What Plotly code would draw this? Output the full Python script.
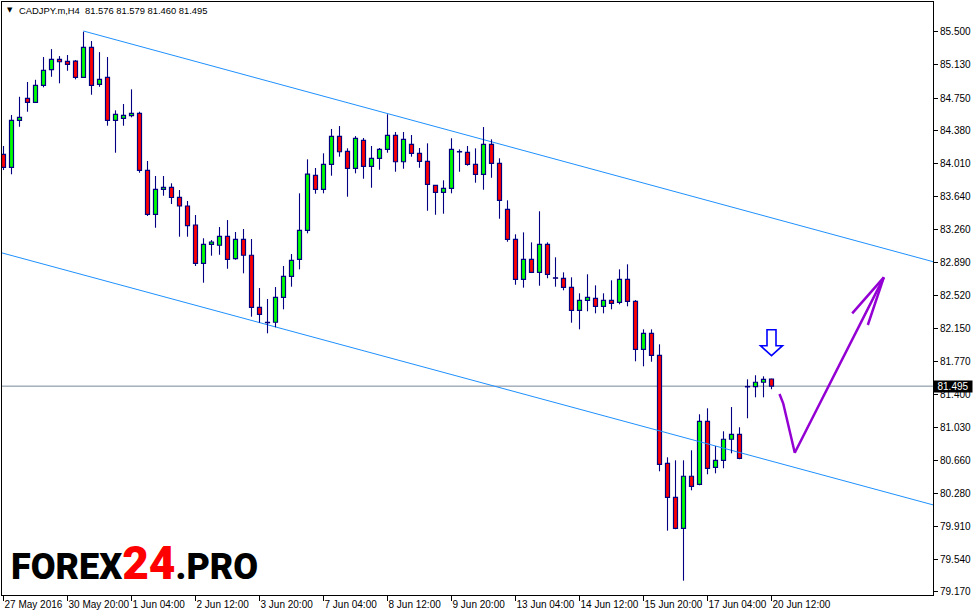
import plotly.graph_objects as go

# ---------------- data (H4 candles, CADJPY.m) ----------------
opens = [84.115, 83.968, 84.499, 84.747, 84.702, 84.894, 85.071, 85.188, 85.165, 85.169,
         84.985, 85.324, 84.906, 84.985, 84.499, 84.521, 84.551, 84.578, 83.934, 83.437,
         83.719, 83.742, 83.629, 83.531, 83.316, 82.883, 83.098, 83.087, 83.188, 82.935,
         83.154, 82.974, 82.386, 82.212, 82.217, 82.499, 82.736, 82.928, 83.256, 83.877,
         83.719, 84.002, 84.318, 84.149, 83.957, 84.273, 83.979, 84.070, 84.171, 84.329,
         84.031, 84.228, 84.126, 84.036, 83.764, 83.685, 83.731, 84.146, 84.137, 84.002,
         83.889, 84.228, 84.013, 83.493, 83.154, 82.702, 82.928, 82.781, 83.098, 82.719,
         82.714, 82.612, 82.352, 82.465, 82.488, 82.397, 82.465, 82.442, 82.702, 82.454,
         81.911, 82.092, 81.843, 80.623, 80.239, 79.889, 80.477, 80.386, 81.098, 80.578,
         80.657, 80.895, 80.951, 81.487, 81.489, 81.539, 81.576]
highs = [84.209, 84.559, 84.765, 84.932, 84.957, 85.214, 85.304, 85.225, 85.237, 85.180,
         85.500, 85.395, 85.270, 85.214, 84.612, 84.683, 84.849, 84.596, 84.039, 83.870,
         83.870, 83.787, 83.711, 83.587, 83.429, 83.166, 83.146, 83.293, 83.372, 83.237,
         83.271, 83.158, 82.604, 82.480, 82.615, 82.853, 82.988, 83.674, 84.058, 83.960,
         84.126, 84.401, 84.434, 84.183, 84.321, 84.299, 84.209, 84.186, 84.567, 84.367,
         84.367, 84.333, 84.186, 84.239, 83.768, 83.821, 84.296, 84.171, 84.209, 84.182,
         84.423, 84.284, 84.070, 83.595, 83.211, 83.233, 83.120, 83.471, 83.120, 82.951,
         82.781, 82.725, 82.544, 82.759, 82.634, 82.544, 82.691, 82.815, 82.872, 82.468,
         82.137, 82.137, 81.968, 80.691, 80.657, 80.657, 80.770, 81.177, 81.245, 80.816,
         80.985, 81.259, 81.030, 81.572, 81.618, 81.606, 81.579]
lows = [83.937, 83.889, 84.426, 84.596, 84.695, 84.872, 84.991, 84.917, 85.059, 84.962,
        84.980, 84.788, 84.878, 84.438, 84.133, 84.438, 84.533, 83.907, 83.418, 83.285,
        83.647, 83.553, 83.184, 83.184, 82.853, 82.664, 82.969, 82.980, 82.822, 82.924,
        82.770, 82.280, 82.212, 82.092, 82.160, 82.363, 82.619, 82.815, 83.222, 83.670,
        83.674, 83.873, 84.088, 83.636, 83.900, 83.839, 83.737, 83.941, 84.133, 83.918,
        83.952, 84.088, 83.963, 83.477, 83.432, 83.444, 83.674, 83.918, 83.986, 83.794,
        83.715, 83.850, 83.387, 83.127, 82.641, 82.608, 82.773, 82.630, 82.714, 82.619,
        82.578, 82.212, 82.137, 82.341, 82.318, 82.318, 82.363, 82.420, 82.397, 81.776,
        81.719, 81.771, 80.533, 79.862, 79.878, 79.297, 80.318, 80.375, 80.499, 80.510,
        80.567, 80.736, 80.669, 81.132, 81.369, 81.369, 81.460]
closes = [83.968, 84.499, 84.533, 84.702, 84.894, 85.064, 85.188, 85.161, 85.131, 84.985,
          85.324, 84.894, 84.962, 84.499, 84.567, 84.555, 84.578, 83.934, 83.437, 83.719,
          83.742, 83.627, 83.531, 83.308, 82.883, 83.098, 83.124, 83.188, 82.928, 83.154,
          82.974, 82.386, 82.307, 82.216, 82.499, 82.736, 82.917, 83.256, 83.892, 83.719,
          84.002, 84.318, 84.144, 83.957, 84.295, 83.979, 84.070, 84.171, 84.329, 84.031,
          84.284, 84.126, 84.036, 83.776, 83.685, 83.731, 84.171, 84.142, 84.002, 83.889,
          84.228, 84.013, 83.595, 83.154, 82.702, 82.928, 82.781, 83.098, 82.759, 82.715,
          82.612, 82.352, 82.465, 82.499, 82.397, 82.465, 82.431, 82.702, 82.454, 81.911,
          82.092, 81.843, 80.612, 80.239, 79.889, 80.477, 80.363, 81.098, 80.567, 80.657,
          80.895, 80.951, 80.680, 81.491, 81.539, 81.572, 81.495]

tick_bars = [0, 8, 16, 24, 32, 40, 48, 56, 64, 72, 80, 88, 96]
tick_labels = ["27 May 2016", "30 May 20:00", "1 Jun 04:00", "2 Jun 12:00", "3 Jun 20:00",
               "7 Jun 04:00", "8 Jun 12:00", "9 Jun 20:00", "13 Jun 04:00", "14 Jun 12:00",
               "15 Jun 20:00", "17 Jun 04:00", "20 Jun 12:00"]
price_ticks = [85.50, 85.13, 84.75, 84.38, 84.01, 83.64, 83.26, 82.89, 82.52, 82.15,
               81.77, 81.40, 81.03, 80.66, 80.28, 79.91, 79.54, 79.17]

upper_channel_x = [10, 116.25]
upper_channel_y = [85.508, 82.900]
lower_channel_x = [-0.2, 116.25]
lower_channel_y = [83.001, 80.152]

bid_price = 81.495
symbol_text = "CADJPY.m,H4  81.576 81.579 81.460 81.495"

forecast_x = [97.0, 97.46, 98.91, 110.04]
forecast_y = [81.406, 81.301, 80.743, 82.725]
forecast_head_x = [106.09, 110.04, 108.04]
forecast_head_y = [82.318, 82.725, 82.186]

signal_bar = 96
signal_tip_price = 81.839

# ---------------- figure ----------------
NAVY = "#000080"
BULL = "#00FF00"
BEAR = "#FF0000"
FONT = "Liberation Sans"

n = len(opens)
xs = list(range(n))
body_base = [min(o, c) for o, c in zip(opens, closes)]
body_top = [max(o, c) for o, c in zip(opens, closes)]
body_h = [max(t - b, 0.0005) for t, b in zip(body_top, body_base)]
colors = [BULL if c > o else BEAR for o, c in zip(opens, closes)]

wx, wy = [], []
for i in xs:
    wx += [i, i, None, i, i, None]
    wy += [highs[i], body_top[i], None, body_base[i], lows[i], None]

fig = go.Figure()

fig.add_trace(go.Scatter(x=upper_channel_x, y=upper_channel_y, mode="lines",
                         line=dict(color="#1E90FF", width=1), hoverinfo="skip"))
fig.add_trace(go.Scatter(x=lower_channel_x, y=lower_channel_y, mode="lines",
                         line=dict(color="#1E90FF", width=1), hoverinfo="skip"))

fig.add_trace(go.Bar(x=xs, y=body_h, base=body_base, width=0.5,
                     marker=dict(color=colors, line=dict(color=NAVY, width=1.2)),
                     hoverinfo="skip"))
fig.add_trace(go.Scatter(x=wx, y=wy, mode="lines", line=dict(color=NAVY, width=1.1),
                         hoverinfo="skip", connectgaps=False))

fig.add_trace(go.Scatter(x=forecast_x, y=forecast_y, mode="lines",
                         line=dict(color="#9400D3", width=2.5), hoverinfo="skip"))
fig.add_trace(go.Scatter(x=forecast_head_x, y=forecast_head_y, mode="lines",
                         line=dict(color="#9400D3", width=2.5), hoverinfo="skip"))

# bid line
fig.add_shape(type="line", xref="paper", x0=0, x1=1, yref="y", y0=bid_price, y1=bid_price,
              line=dict(color="#778899", width=1), layer="below")

# hollow blue down arrow (pixel sized, anchored at the signal bar)
fig.add_shape(type="path", xref="x", yref="y", xsizemode="pixel", ysizemode="pixel",
              xanchor=signal_bar, yanchor=signal_tip_price,
              path="M 0 0 L 11 10 L 4.5 10 L 4.5 26 L -4.5 26 L -4.5 10 L -11 10 Z",
              line=dict(color="#0000FF", width=1.6), fillcolor="white", layer="above")


def px_x(px):
    return (px - 2) / 931.0


def px_y(py):
    return 1 - (py - 2) / 593.0


annotations = [
    dict(xref="paper", yref="paper", x=px_x(5), y=px_y(10.5), xanchor="left", yanchor="middle",
         text="▼", showarrow=False, font=dict(family="DejaVu Sans", size=7, color="black")),
    dict(xref="paper", yref="paper", x=px_x(17), y=px_y(10.5), xanchor="left", yanchor="middle",
         text=symbol_text, showarrow=False, font=dict(family=FONT, size=9.4, color="black")),
    dict(xref="paper", yref="y", x=1, y=bid_price, xanchor="left", yanchor="middle",
         text="%.3f" % bid_price, showarrow=False, bgcolor="black", width=38, height=11,
         align="center", borderpad=0, font=dict(family=FONT, size=10, color="white")),
    dict(xref="paper", yref="paper", x=px_x(9), y=px_y(563), xanchor="left", yanchor="middle",
         text="FOREX<span style='color:#FF0000;font-size:46px'>24</span>.PRO", showarrow=False,
         font=dict(family="Roboto", size=36, color="black", weight=900)),
]

fig.update_layout(
    width=973, height=616,
    margin=dict(l=2, r=40, t=2, b=21, pad=0),
    paper_bgcolor="white", plot_bgcolor="white",
    showlegend=False, barmode="overlay",
    annotations=annotations,
    xaxis=dict(range=[-0.1875, 116.1875], showgrid=False, zeroline=False,
               showline=True, linecolor="black", linewidth=1, mirror=True,
               ticks="outside", ticklen=5, tickcolor="black", tickwidth=1,
               tickvals=tick_bars, ticktext=tick_labels, tickangle=0,
               ticklabelposition="outside right",
               tickfont=dict(family=FONT, size=10, color="black"), automargin=False,
               fixedrange=True),
    yaxis=dict(range=[79.135, 85.836], side="right", showgrid=False, zeroline=False,
               showline=True, linecolor="black", linewidth=1, mirror=True,
               ticks="outside", ticklen=4, tickcolor="black", tickwidth=1,
               tickvals=price_ticks, ticktext=["%.3f" % p for p in price_ticks],
               tickfont=dict(family=FONT, size=10, color="black"), automargin=False,
               fixedrange=True),
)

fig.write_html("out.html", config={"displayModeBar": False},
               post_script="document.body.style.margin='0';document.body.style.overflow='hidden';")
